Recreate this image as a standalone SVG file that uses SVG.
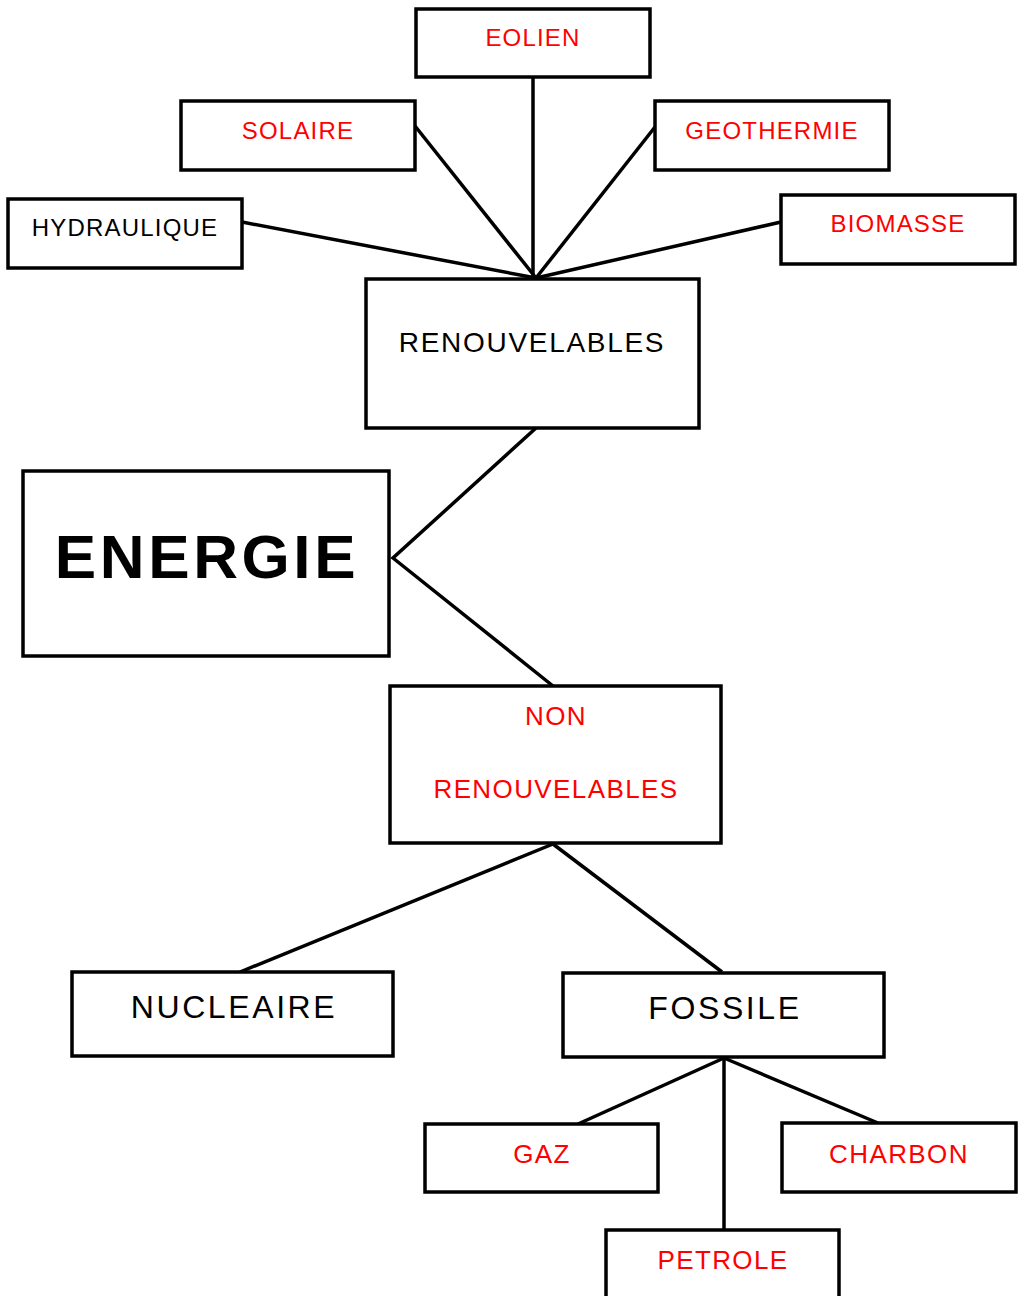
<svg xmlns="http://www.w3.org/2000/svg" width="1026" height="1296" viewBox="0 0 1026 1296">
<style>
rect{fill:#fff;stroke:#000;stroke-width:3.5}
text{font-family:"Liberation Sans",Arial,sans-serif;text-anchor:middle}
.s{font-size:24px;letter-spacing:1.2px}
.b{font-size:26px;letter-spacing:1.4px}
.m{font-size:28px;letter-spacing:1.7px}
.l{font-size:32px;letter-spacing:2.6px}
.r{fill:#ff0000}
.k{fill:#000}
#connectors line,#connectors polyline{stroke:#000;stroke-width:3.5;fill:none}
</style>
<rect x="0" y="0" width="1026" height="1296" style="stroke:none"/>
<g id="connectors">
<line x1="242" y1="222" x2="536" y2="278"/>
<line x1="415" y1="126" x2="536" y2="278"/>
<line x1="533" y1="77" x2="533" y2="278"/>
<line x1="655" y1="127" x2="536" y2="278"/>
<line x1="781" y1="222" x2="536" y2="278"/>
<polyline points="536,428 393,558 553,686"/>
<line x1="553" y1="844" x2="240" y2="972"/>
<line x1="553" y1="844" x2="722" y2="972"/>
<line x1="724" y1="1058" x2="578" y2="1124"/>
<line x1="724" y1="1058" x2="878" y2="1123"/>
<line x1="724" y1="1058" x2="724" y2="1230"/>
</g>
<g id="eolien"><rect x="416" y="9" width="234" height="68"/><text class="s r" x="533" y="46">EOLIEN</text></g>
<g id="solaire"><rect x="181" y="101" width="234" height="69"/><text class="s r" x="298" y="139">SOLAIRE</text></g>
<g id="hydraulique"><rect x="8" y="199" width="234" height="69"/><text class="s k" x="125" y="236">HYDRAULIQUE</text></g>
<g id="geothermie"><rect x="655" y="101" width="234" height="69"/><text class="s r" x="772" y="139">GEOTHERMIE</text></g>
<g id="biomasse"><rect x="781" y="195" width="234" height="69"/><text class="s r" x="898" y="232">BIOMASSE</text></g>
<g id="renouvelables"><rect x="366" y="279" width="333" height="149"/><text class="m k" x="532" y="352">RENOUVELABLES</text></g>
<g id="energie"><rect x="23" y="471" width="366" height="185"/><text x="207" y="578" style="font-size:62px;font-weight:bold;letter-spacing:3.6px">ENERGIE</text></g>
<g id="non-renouvelables"><rect x="390" y="686" width="331" height="157"/><text class="b r" x="556" y="725">NON</text><text class="b r" x="556" y="798">RENOUVELABLES</text></g>
<g id="nucleaire"><rect x="72" y="972" width="321" height="84"/><text class="l k" x="234" y="1018">NUCLEAIRE</text></g>
<g id="fossile"><rect x="563" y="973" width="321" height="84"/><text class="l k" x="725" y="1019">FOSSILE</text></g>
<g id="gaz"><rect x="425" y="1124" width="233" height="68"/><text class="b r" x="542" y="1163">GAZ</text></g>
<g id="charbon"><rect x="782" y="1123" width="234" height="69"/><text class="b r" x="899" y="1163">CHARBON</text></g>
<g id="petrole"><rect x="606" y="1230" width="233" height="80"/><text class="b r" x="723" y="1269">PETROLE</text></g>
</svg>
